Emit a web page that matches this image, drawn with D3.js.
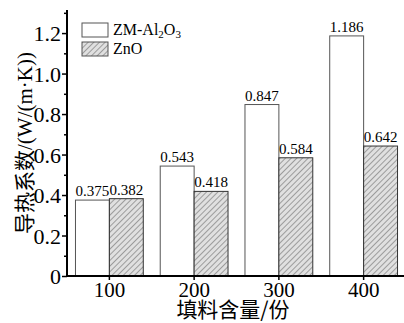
<!DOCTYPE html>
<html>
<head>
<meta charset="utf-8">
<script src="https://cdn.jsdelivr.net/npm/d3@7"></script>
<style>
 body { margin: 0; background: #fff; }
 text { font-family: "Liberation Serif", "DejaVu Serif", serif; fill: #000; }
 .cjk { font-family: "Noto Sans CJK SC", sans-serif; }
</style>
</head>
<body>
<div id="chart"></div>
<script>
// chart values
var categories = ['100', '200', '300', '400'];
var seriesNames = ['ZM-Al2O3', 'ZnO'];
var zmValues = [0.375, 0.543, 0.847, 1.186];
var znoValues = [0.382, 0.418, 0.584, 0.642];
var yTicks = [0, 0.2, 0.4, 0.6, 0.8, 1.0, 1.2];

// graphical parameters (plot area edges)
var width = 404, height = 323;
var plotLeft = 67, plotRight = 406, plotTop = 10, plotBottom = 276;
var serif = '"Liberation Serif", "DejaVu Serif", serif';

var svg = d3.select('#chart').append('svg')
 .attr('width', width).attr('height', height);

// hatch pattern for ZnO bars
var defs = svg.append('defs');
var pat = defs.append('pattern').attr('id', 'hatch')
 .attr('patternUnits', 'userSpaceOnUse')
 .attr('width', 4).attr('height', 4)
 .attr('patternTransform', 'rotate(45)');
pat.append('rect').attr('width', 4).attr('height', 4).attr('fill', '#e0e0e0');
pat.append('line').attr('x1', 0).attr('y1', 0).attr('x2', 0).attr('y2', 4)
 .attr('stroke', '#6e6e6e').attr('stroke-width', 1.2);

var x = d3.scaleBand().domain(categories).range([plotLeft, plotRight]).paddingInner(0.2).paddingOuter(0.1);
var xSub = d3.scaleBand().domain(seriesNames).range([0, x.bandwidth()]);
var y = d3.scaleLinear().domain([0, 1.314]).range([plotBottom, plotTop]);

var rows = categories.map(function(c, i) {
 return [{cat: c, s: seriesNames[0], v: zmValues[i]}, {cat: c, s: seriesNames[1], v: znoValues[i]}];
});

var groups = svg.append('g').selectAll('g').data(rows).enter().append('g')
 .attr('transform', function(d) { return 'translate(' + x(d[0].cat) + ',0)'; });

groups.selectAll('rect').data(function(d) { return d; }).enter().append('rect')
 .attr('x', function(d) { return xSub(d.s); })
 .attr('y', function(d) { return y(d.v); })
 .attr('width', xSub.bandwidth())
 .attr('height', function(d) { return plotBottom - y(d.v); })
 .attr('fill', function(d) { return d.s === 'ZnO' ? 'url(#hatch)' : '#fff'; })
 .attr('stroke', function(d) { return d.s === 'ZnO' ? '#333' : '#555'; })
 .attr('stroke-width', 1);

groups.selectAll('text.val').data(function(d) { return d; }).enter().append('text')
 .attr('class', 'val')
 .attr('x', function(d) { return xSub(d.s) + xSub.bandwidth() / 2; })
 .attr('y', function(d) { return y(d.v) - 4; })
 .attr('text-anchor', 'middle')
 .style('font-family', serif)
 .style('font-size', '15px')
 .text(function(d) { return d.v.toFixed(3); });

// y axis with minor ticks
var minor = d3.range(0.1, 1.31, 0.2);
svg.append('g').attr('transform', 'translate(' + plotLeft + ',0)')
 .call(d3.axisLeft(y).tickValues(minor).tickSize(3).tickFormat(''))
 .call(function(g) { g.select('.domain').remove(); g.selectAll('line').attr('stroke-width', 1.5); });
var yAxis = svg.append('g').attr('transform', 'translate(' + plotLeft + ',0)')
 .call(d3.axisLeft(y).tickValues(yTicks).tickSize(5).tickPadding(1)
  .tickFormat(function(d) { return d === 0 ? '0' : d3.format('.1f')(d); }));
yAxis.attr('font-family', serif);
yAxis.select('.domain').attr('d', 'M0,' + plotTop + 'V' + plotBottom).attr('stroke-width', 2);
yAxis.selectAll('line').attr('stroke-width', 1.5);
yAxis.selectAll('text').style('font-size', '22px').style('font-family', serif).attr('dy', '0.35em');

// x axis
var xAxis = svg.append('g').attr('transform', 'translate(0,' + plotBottom + ')')
 .call(d3.axisBottom(x).tickSize(4).tickPadding(2));
xAxis.attr('font-family', serif);
xAxis.select('.domain').attr('d', 'M' + (plotLeft - 1) + ',0H' + width).attr('stroke-width', 2);
xAxis.selectAll('line').attr('stroke-width', 1.5);
xAxis.selectAll('text').style('font-size', '21px').style('font-family', serif);

// axis titles
svg.append('text').attr('x', 233).attr('y', 317).attr('text-anchor', 'middle')
 .attr('class', 'cjk').style('font-size', '21px').text('填料含量/份');

var yt = svg.append('text').attr('transform', 'translate(32,' + ((plotTop + plotBottom) / 2) + ') rotate(-90)')
 .attr('text-anchor', 'middle').style('font-size', '21px');
yt.append('tspan').attr('class', 'cjk').text('导热系数');
yt.append('tspan').style('font-family', serif).text('/(W/(m·K))');

// legend
var legend = svg.append('g').attr('transform', 'translate(82,23)');
var legendRows = [
 {fill: '#fff', label: ['ZM-Al', '2', 'O', '3']},
 {fill: 'url(#hatch)', label: ['ZnO']}
];
legendRows.forEach(function(r, i) {
 var g = legend.append('g').attr('transform', 'translate(0,' + (i * 19) + ')');
 g.append('rect').attr('width', 26).attr('height', 14).attr('fill', r.fill).attr('stroke', '#555');
 var t = g.append('text').attr('x', 31).attr('y', 12).style('font-size', '16px').style('font-family', serif);
 r.label.forEach(function(p, j) {
  var sp = t.append('tspan').text(p);
  if (j % 2 === 1) sp.style('font-size', '11px').attr('dy', 3);
  else if (j > 0) sp.attr('dy', -3);
 });
});
</script>
</body>
</html>
